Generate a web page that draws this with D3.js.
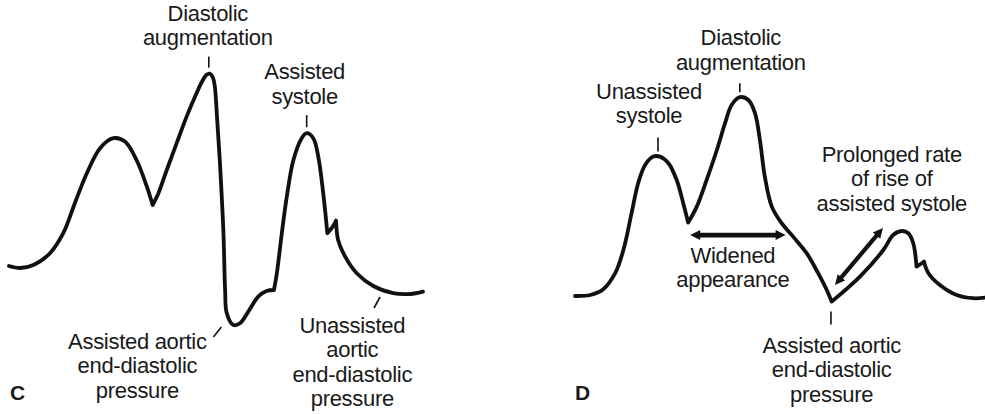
<!DOCTYPE html>
<html>
<head>
<meta charset="utf-8">
<script src="https://cdn.jsdelivr.net/npm/d3@7"></script>
<style>
  html, body { margin: 0; padding: 0; background: #fff; }
  svg { display: block; }
  text {
    font-family: "Liberation Sans", Arial, Helvetica, sans-serif;
    font-size: 22px;
    letter-spacing: -0.3px;
    fill: #1a1a1a;
  }
  .panel-letter { font-weight: bold; font-size: 21px; letter-spacing: 0; }
</style>
</head>
<body>
<svg id="chart" width="985" height="415"></svg>
<script>
// ---- Panel C: early inflation / late deflation style trace ----
// time in ms across the panel, pressure in mmHg
const cTime = [0, 27, 59, 99, 131, 159, 188, 220, 252, 280, 308, 333, 347,
  361, 381, 405, 429, 453, 467, 477, 485, 492, 497, 502, 510, 518, 522, 526, 542, 558, 578, 602, 622, 640,
  647, 659, 671, 687, 707, 719, 735, 747, 759, 769, 782, 790,
  795, 812, 840, 880, 928, 969, 1000];
const cPressure = [37, 36, 37.5, 43.4, 53.4, 68.4, 83.4, 95.9, 100.9, 99.2, 90, 76.7, 67.5,
  73.4, 85, 98.4, 111.7, 123.4, 129.5, 132.6, 133.2, 131.5, 127, 113, 86.7, 53.4, 25, 13.4, 7.5, 8.4, 14.2, 21.7, 24.5, 25,
  33.4, 53.4, 71.7, 90, 100.9, 103.4, 100.9, 91.7, 73.4, 53.4, 56.7, 59.7,
  50, 41.7, 33.4, 27, 23.4, 23, 24.2];
// indices where the trace has a sharp corner (notches, valve events)
const cCorners = [12, 33, 43, 45];

// ---- Panel D: late inflation style trace ----
const dTime = [0, 37, 69, 98, 118, 138, 154, 171, 191, 207, 228, 248, 264, 276,
  297, 321, 346, 366, 382, 402, 423, 439, 451, 463, 480, 504, 532, 565, 593, 614, 626,
  695, 752, 776, 797, 813, 825, 833, 846, 851,
  862, 890, 931, 971, 1000];
const dPressure = [22, 22.5, 25.4, 33.4, 45, 63.4, 78.4, 87.5, 91.7, 91.7, 88.4, 80, 68.4, 58.7,
  66.7, 80, 95, 108.4, 117.5, 121.4, 120, 113.4, 100, 81.7, 66.7, 58.4, 51.7, 43.4, 33.4, 25, 19.2,
  31.7, 45, 52.5, 54.5, 53.4, 48.4, 36.7, 38.4, 39.2,
  33.4, 27.5, 22.5, 20.9, 21.2];
const dCorners = [13, 30, 37, 39];

// Label text
const cLabels = {
  diastolic: ["Diastolic", "augmentation"],
  assistedSystole: ["Assisted", "systole"],
  assistedEDP: ["Assisted aortic", "end-diastolic", "pressure"],
  unassistedEDP: ["Unassisted", "aortic", "end-diastolic", "pressure"]
};
const dLabels = {
  unassistedSystole: ["Unassisted", "systole"],
  diastolic: ["Diastolic", "augmentation"],
  widened: ["Widened", "appearance"],
  prolonged: ["Prolonged rate", "of rise of", "assisted systole"],
  assistedEDP: ["Assisted aortic", "end-diastolic", "pressure"]
};

const svg = d3.select("#chart");
const LINE_H = 24.3;

const y = d3.scaleLinear().domain([0, 140]).range([340, 60]);
const xC = d3.scaleLinear().domain([0, 1000]).range([9, 423]);
const xD = d3.scaleLinear().domain([0, 1000]).range([575, 985]);

function tracePath(times, pressures, corners, x) {
  const pts = times.map((t, i) => ({ t, p: pressures[i] }));
  const cuts = [0, ...corners, pts.length - 1];
  const line = d3.line()
    .x(d => x(d.t))
    .y(d => y(d.p))
    .curve(d3.curveCatmullRom.alpha(0.5));
  let d = "";
  for (let k = 0; k < cuts.length - 1; k++) {
    d += line(pts.slice(cuts[k], cuts[k + 1] + 1));
  }
  return d;
}

function drawTrace(times, pressures, corners, x) {
  svg.append("path")
    .attr("d", tracePath(times, pressures, corners, x))
    .attr("fill", "none")
    .attr("stroke", "#111")
    .attr("stroke-width", 3.8)
    .attr("stroke-linejoin", "round")
    .attr("stroke-linecap", "round");
}

function label(lines, cx, firstBaseline) {
  const t = svg.append("text").attr("text-anchor", "middle");
  lines.forEach((s, i) => {
    t.append("tspan").attr("x", cx).attr("y", firstBaseline + i * LINE_H).text(s);
  });
}

function tick(x1, y1, x2, y2) {
  svg.append("line")
    .attr("x1", x1).attr("y1", y1).attr("x2", x2).attr("y2", y2)
    .attr("stroke", "#111").attr("stroke-width", 1.6);
}

// double-headed arrow between two points
function doubleArrow(x1, y1, x2, y2, shaft, headLen, headHalf) {
  const ang = Math.atan2(y2 - y1, x2 - x1);
  const g = svg.append("g").attr("transform", `translate(${x1},${y1}) rotate(${ang * 180 / Math.PI})`);
  const L = Math.hypot(x2 - x1, y2 - y1);
  g.append("line")
    .attr("x1", headLen - 1).attr("y1", 0).attr("x2", L - headLen + 1).attr("y2", 0)
    .attr("stroke", "#111").attr("stroke-width", shaft);
  g.append("path").attr("d", `M0,0 L${headLen},${-headHalf} L${headLen},${headHalf} Z`).attr("fill", "#111");
  g.append("path").attr("d", `M${L},0 L${L - headLen},${-headHalf} L${L - headLen},${headHalf} Z`).attr("fill", "#111");
}

// ---------------- Panel C ----------------
drawTrace(cTime, cPressure, cCorners, xC);

// diastolic augmentation peak
{
  const i = 20, ax = xC(cTime[i]), ay = y(cPressure[i]);
  tick(ax - 1, ay - 17, ax - 1, ay - 6);
  label(cLabels.diastolic, ax - 2, ay - 53);
}
// assisted systole peak
{
  const i = 39, ax = xC(cTime[i]), ay = y(cPressure[i]);
  tick(ax, ay - 18, ax, ay - 6);
  label(cLabels.assistedSystole, ax - 2, ay - 54);
}
// assisted aortic end-diastolic pressure (lowest point)
{
  const i = 28, ax = xC(cTime[i]), ay = y(cPressure[i]);
  tick(ax - 20, ay + 12, ax - 12, ay + 2);
  label(cLabels.assistedEDP, ax - 96, ay + 24);
}
// unassisted aortic end-diastolic pressure
{
  const i = 49, ax = xC(cTime[i]), ay = y(cPressure[i]);
  tick(ax + 0.7, ay + 22, ax + 6.7, ay + 11);
  label(cLabels.unassistedEDP, ax - 21, ay + 47);
}
svg.append("text").attr("class", "panel-letter").attr("x", 10).attr("y", 400).text("C");

// ---------------- Panel D ----------------
drawTrace(dTime, dPressure, dCorners, xD);

// unassisted systole peak
{
  const ax = xD((dTime[8] + dTime[9]) / 2), ay = y(dPressure[8]);
  tick(ax + 1.4, ay - 19, ax + 1.4, ay - 5);
  label(dLabels.unassistedSystole, ax - 7.6, ay - 57.7);
}
// diastolic augmentation peak
{
  const i = 19, ax = xD(dTime[i]), ay = y(dPressure[i]);
  tick(ax, ay - 14, ax, ay - 5);
  label(dLabels.diastolic, ax + 1, ay - 52);
}
// widened appearance: from the dicrotic notch to the descending limb
{
  const n = 13, ax = xD(dTime[n]), ay = y(dPressure[n]);
  const ex = xD(dTime[25]) + 4;
  doubleArrow(ax + 2, ay + 12.5, ex, ay + 12.5, 4.6, 10, 5);
  label(dLabels.widened, (ax + ex) / 2 - 4, ay + 40);
}
// assisted aortic end-diastolic pressure and prolonged rise
{
  const i = 30, ax = xD(dTime[i]), ay = y(dPressure[i]);
  tick(ax - 0.7, ay + 10, ax - 0.7, ay + 23);
  label(dLabels.assistedEDP, ax, ay + 51.5);
  doubleArrow(ax + 3.3, ay - 16.6, ax + 51.3, ay - 73.6, 4.2, 10, 4.8);
}
{
  const i = 34, ax = xD(dTime[i]), ay = y(dPressure[i]);
  label(dLabels.prolonged, ax - 10, ay - 69);
}
svg.append("text").attr("class", "panel-letter").attr("x", 575).attr("y", 400).text("D");
</script>
</body>
</html>
